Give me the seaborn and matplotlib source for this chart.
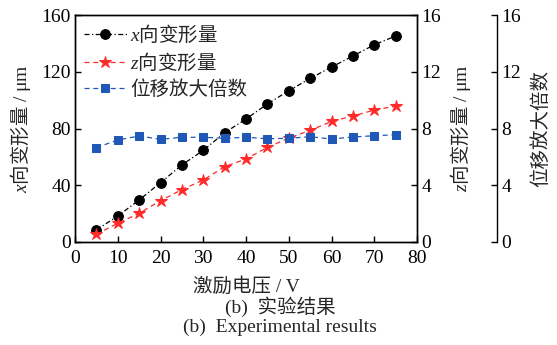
import matplotlib
matplotlib.use("Agg")
import matplotlib.pyplot as plt
import seaborn as sns
import pandas as pd

sns.set_theme(style="white")
plt.rcParams['font.family'] = ['Liberation Serif', 'Noto Sans CJK SC']
plt.rcParams['mathtext.fontset'] = 'custom'
plt.rcParams['mathtext.it'] = 'Liberation Serif:italic'
plt.rcParams['mathtext.rm'] = 'Liberation Serif'

voltage = [5, 10, 15, 20, 25, 30, 35, 40, 45, 50, 55, 60, 65, 70, 75]
x_deform = [8.5, 18.3, 29.6, 41.8, 54.3, 64.6, 77.0, 86.7, 97.3, 106.6, 115.3, 123.3, 131.1, 139.0, 145.2]
z_deform = [0.54, 1.32, 2.02, 2.91, 3.69, 4.37, 5.31, 5.85, 6.67, 7.33, 7.86, 8.50, 8.88, 9.30, 9.58]
amplification = [6.65, 7.19, 7.47, 7.24, 7.38, 7.38, 7.31, 7.38, 7.28, 7.31, 7.42, 7.26, 7.40, 7.49, 7.56]

labels = ['$x$向变形量', '$z$向变形量', '位移放大倍数']

df = pd.DataFrame({'v': voltage, 'x': x_deform, 'z': z_deform, 'a': amplification})

fig = plt.figure(figsize=(5.57, 3.45), dpi=100)
ax = fig.add_axes([75/557, 1-242/345, 342/557, 227/345])
ax2 = ax.twinx()
ax3 = ax.twinx()

fs = 14
cjk = 'Noto Sans CJK SC'
sns.lineplot(data=df, x='v', y='x', ax=ax, color='black', marker='o', markersize=7,
             linestyle=(0, (4, 2, 1, 2)), linewidth=0.9, markeredgecolor='black',
             label=labels[0], legend=False)
sns.lineplot(data=df, x='v', y='z', ax=ax2, color='#ff2a2a', marker='*', markersize=9,
             linestyle=(0, (4, 3)), linewidth=0.9, markeredgecolor='#ff2a2a',
             label=labels[1], legend=False)
sns.lineplot(data=df, x='v', y='a', ax=ax3, color='#2058b8', marker='s', markersize=6,
             linestyle=(0, (4, 3)), linewidth=0.9, markeredgecolor='#2058b8',
             label=labels[2], legend=False)

ax.set_xlim(0, 80)
ax.set_ylim(0, 160)
ax2.set_ylim(0, 16)
ax3.set_ylim(0, 16)
ax.set_xticks(range(0, 81, 10))
ax.set_yticks(range(0, 161, 40))
ax2.set_yticks(range(0, 17, 4))
ax3.set_yticks(range(0, 17, 4))

for a in (ax, ax2, ax3):
    for s in a.spines.values():
        s.set_color('black')
        s.set_linewidth(1.0)
    a.tick_params(direction='in', length=4, width=1.0, labelsize=fs, colors='black', pad=3)

ax.tick_params(axis='x', pad=6)
ax.tick_params(axis='both', which='both', bottom=True, left=True)
ax2.tick_params(axis='y', right=True)
ax3.spines['right'].set_position(('axes', 1.234))
for k in ('top', 'bottom', 'left'):
    ax3.spines[k].set_visible(False)
ax3.tick_params(axis='y', right=True)

ax.set_xlabel('激励电压 / V', fontsize=fs, labelpad=7)
ax.set_ylabel('$x$向变形量$\\mathrm{\\ /\\ μm}$', fontsize=fs, family=cjk, labelpad=6)
ax2.set_ylabel('$z$向变形量$\\mathrm{\\ /\\ μm}$', fontsize=fs, family=cjk, labelpad=5)
ax3.set_ylabel('位移放大倍数', fontsize=fs, family=cjk, labelpad=7)

handles = []
for a in (ax, ax2, ax3):
    handles += a.get_lines()
leg = ax.legend(handles, labels, loc='upper left', frameon=False,
                prop={'family': cjk, 'size': fs},
                handlelength=2.2, handletextpad=0.2, labelspacing=0.28,
                borderaxespad=0.2, borderpad=0.25, bbox_to_anchor=(0.0, 1.0))

fig.text(280/557, 1-307/345, '(b)  实验结果', ha='center', va='center', fontsize=fs)
fig.text(280/557, 1-327/345, '(b)  Experimental results', ha='center', va='center', fontsize=fs)

fig.savefig('out.png', dpi=100)
